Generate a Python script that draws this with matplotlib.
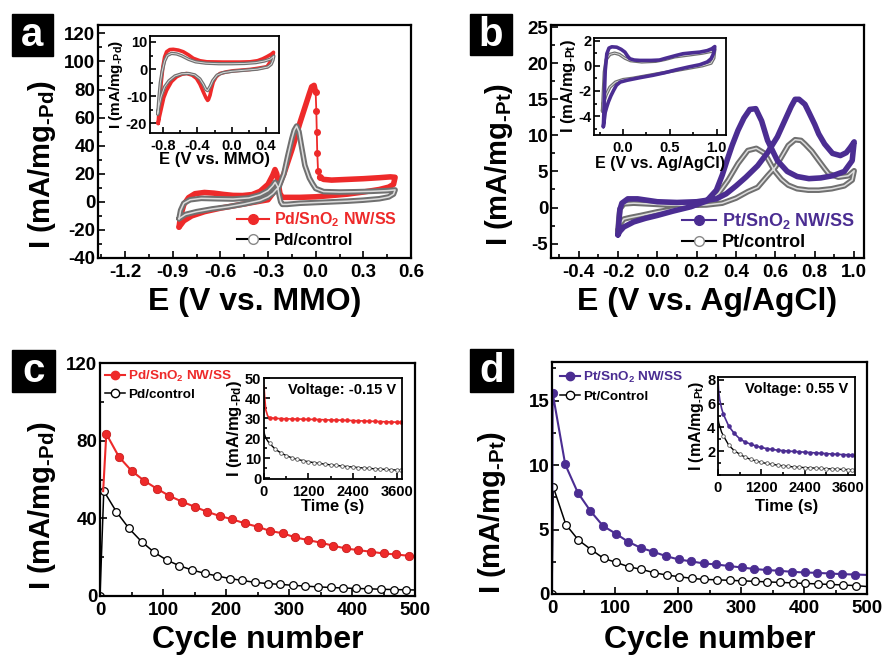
import matplotlib
matplotlib.use('Agg')
import matplotlib.pyplot as plt
from matplotlib.lines import Line2D
from matplotlib.patches import Rectangle
from matplotlib.ticker import MultipleLocator

plt.rcParams['font.family'] = 'Liberation Sans'
plt.rcParams['font.weight'] = 'bold'
plt.rcParams['axes.labelweight'] = 'bold'
plt.rcParams['axes.unicode_minus'] = False
plt.rcParams['mathtext.fontset'] = 'custom'
plt.rcParams['mathtext.rm'] = 'Liberation Sans:bold'
plt.rcParams['mathtext.it'] = 'Liberation Sans:bold'
plt.rcParams['mathtext.bf'] = 'Liberation Sans:bold'

RED = '#ee2a2a'
PURPLE = '#4b2d92'
GREY = '#707070'

# ---- panel a: CV of Pd (main) ----
a_red_E = [-0.86, -0.85, -0.83, -0.80, -0.76, -0.70, -0.64, -0.58, -0.52, -0.46, -0.40, -0.35, -0.30,
           -0.27, -0.256, -0.245, -0.235, -0.225, -0.21, -0.10, 0.0, 0.10, 0.20, 0.30, 0.40, 0.46, 0.49,
           0.50, 0.47, 0.40, 0.30, 0.20, 0.10, 0.05, 0.025, 0.015, 0.01, 0.007, 0.004, 0.0, -0.01, -0.025,
           -0.04, -0.06, -0.10, -0.15, -0.20, -0.23, -0.27, -0.30, -0.40, -0.50, -0.60, -0.70, -0.78,
           -0.83, -0.86]
a_red_I = [-18, -10, -2, 3, 5.8, 6.7, 6.2, 5.3, 4.6, 4.5, 5.2, 7.5, 12.5,
           19, 23, 20, 13, 6, 3.2, 3.2, 3.6, 4.5, 5.5, 7.0, 8.8, 10.5, 12.5,
           17.5, 17.8, 17.2, 16.5, 16.0, 15.5, 16.0, 17.5, 22, 35, 50, 65, 78, 83, 82,
           77, 70, 56, 37, 20, 12, 6, 1.5, -0.5, -2.5, -4.5, -7, -10,
           -13.5, -18]
a_ctl_E = [-0.86, -0.85, -0.83, -0.79, -0.72, -0.62, -0.52, -0.42, -0.35, -0.30, -0.27, -0.255, -0.24,
           -0.23, -0.22, -0.21, -0.18, -0.10, 0.0, 0.10, 0.20, 0.30, 0.40, 0.46, 0.49, 0.50,
           0.45, 0.35, 0.25, 0.15, 0.05, 0.0, -0.02, -0.04, -0.068, -0.09, -0.105, -0.12, -0.135,
           -0.15, -0.175, -0.20, -0.23, -0.27, -0.30, -0.35, -0.45, -0.55, -0.65, -0.75, -0.82, -0.86]
a_ctl_I = [-12, -6, -1, 1.5, 2.5, 2.2, 2.0, 2.8, 5, 8, 11.5, 14, 11,
           5, 0, -1.8, -1.8, -1.0, -0.5, 0, 0.5, 1.2, 2.2, 3.5, 5.5, 8.5,
           8.0, 7.5, 7.2, 7.0, 7.3, 9.5, 13, 17, 26, 40, 50, 54, 51,
           45, 33, 20, 11, 6, 3.5, 1, -1.5, -3.5, -5, -7, -9, -12]

# ---- panel a inset ----
ai_red_E = [-0.855, -0.845, -0.835, -0.82, -0.80, -0.78, -0.757, -0.72, -0.68, -0.62, -0.563, -0.50, -0.447,
            -0.37, -0.29, -0.10, 0.10, 0.214, 0.30, 0.36, 0.41, 0.46, 0.486,
            0.48, 0.47, 0.44, 0.41, 0.30, 0.214, 0.10, 0.02, -0.06, -0.136, -0.18, -0.214, -0.235, -0.252,
            -0.27, -0.28, -0.30, -0.33, -0.37, -0.41, -0.46, -0.524, -0.58, -0.64, -0.70, -0.757, -0.79,
            -0.815, -0.84, -0.855]
ai_red_I = [-20, -15, -11.5, -5, 0.9, 4.5, 6.4, 7.2, 7.3, 7.0, 6.4, 5.2, 4.0,
            3.1, 2.7, 2.6, 2.6, 2.7, 3.1, 3.8, 4.6, 5.5, 6.2,
            5.0, 4.0, 2.3, 0.9, 0.3, -0.1, -0.4, -0.6, -1.0, -1.6, -2.8, -4.7, -7.2, -9.6,
            -11.2, -11.5, -10.5, -8.4, -5.5, -3.4, -2.2, -1.6, -1.9, -2.8, -4.6, -7.8, -10.5,
            -14, -17.5, -20]
ai_ctl_E = [-0.86, -0.845, -0.83, -0.81, -0.78, -0.75, -0.70, -0.64, -0.58, -0.50, -0.42, -0.30, -0.15,
            0.0, 0.15, 0.28, 0.38, 0.45, 0.49,
            0.48, 0.46, 0.42, 0.30, 0.15, 0.0, -0.10, -0.17, -0.22, -0.25, -0.28, -0.30, -0.33, -0.37,
            -0.43, -0.50, -0.58, -0.66, -0.73, -0.78, -0.82, -0.845, -0.86]
ai_ctl_I = [-16.5, -10, -5, -1, 3.0, 5.0, 5.8, 5.6, 4.9, 3.6, 2.7, 2.2, 2.0,
            2.0, 2.1, 2.4, 3.0, 3.7, 4.8,
            3.3, 1.8, 0.8, 0.0, -0.4, -0.8, -1.3, -2.2, -4.2, -6.3, -7.9, -7.5, -5.6, -3.6,
            -2.1, -1.6, -1.7, -2.5, -4.3, -6.5, -10, -13.5, -16.5]

# ---- panel b: CV of Pt (main) ----
b_pur_E = [-0.20, -0.195, -0.19, -0.18, -0.15, -0.10, -0.05, 0.0, 0.10, 0.20, 0.30, 0.35, 0.40, 0.45,
           0.51, 0.56, 0.61, 0.65, 0.68, 0.70, 0.72, 0.75, 0.77, 0.80, 0.82, 0.85, 0.89, 0.93, 0.96, 0.98,
           1.0, 0.99, 0.95, 0.89, 0.83, 0.77, 0.71, 0.66, 0.61, 0.56, 0.53, 0.50, 0.47, 0.44, 0.41, 0.38,
           0.355, 0.33, 0.30, 0.25, 0.17, 0.08, 0.0, -0.06, -0.12, -0.17, -0.19, -0.20]
b_pur_I = [-3.8, -2.0, -0.3, 0.6, 1.2, 1.2, 1.0, 0.8, 0.7, 0.8, 1.2, 1.9, 3.0, 4.2,
           5.8, 7.6, 9.8, 12.2, 14.0, 15.0, 15.0, 14.3, 13.2, 11.5, 10.2, 8.8, 7.5, 7.2, 7.6, 8.3,
           9.1, 6.5, 5.0, 4.4, 4.1, 4.0, 4.3, 5.0, 6.5, 9.3, 12.0, 13.7, 13.6, 12.4, 10.7, 8.6,
           6.6, 4.5, 2.4, 0.9, 0.1, -0.5, -1.1, -1.5, -2.0, -2.7, -3.3, -3.8]
b_ctl_E = [-0.20, -0.195, -0.19, -0.17, -0.12, -0.05, 0.05, 0.15, 0.25, 0.33, 0.40, 0.46, 0.51, 0.56,
           0.60, 0.635, 0.665, 0.70, 0.73, 0.75, 0.785, 0.82, 0.85, 0.87, 0.92, 0.97, 1.0,
           0.99, 0.95, 0.886, 0.82, 0.767, 0.71, 0.665, 0.63, 0.597, 0.546, 0.503, 0.46, 0.41, 0.36,
           0.31, 0.27, 0.22, 0.15, 0.086, 0.0, -0.084, -0.14, -0.17, -0.19, -0.20]
b_ctl_I = [-3.3, -1.5, -0.2, 0.5, 0.6, 0.5, 0.35, 0.3, 0.35, 0.6, 1.3, 2.2, 2.8, 4.4,
           5.6, 7.2, 8.6, 9.4, 9.3, 8.8, 7.8, 6.5, 5.4, 4.7, 4.2, 4.4, 5.1,
           3.8, 3.0, 2.6, 2.4, 2.4, 2.6, 3.1, 3.9, 5.0, 7.5, 8.2, 7.9, 6.1, 3.8,
           1.9, 1.0, 0.5, 0.1, -0.2, -0.6, -1.1, -1.4, -1.6, -2.3, -3.3]

# ---- panel b inset ----
bi_pur_E = [-0.21, -0.205, -0.20, -0.19, -0.173, -0.15, -0.12, -0.067, -0.02, 0.02, 0.05, 0.074, 0.12,
            0.18, 0.30, 0.39, 0.45, 0.50, 0.57, 0.64, 0.73, 0.82, 0.90, 0.95, 0.98,
            0.975, 0.96, 0.94, 0.90, 0.82, 0.70, 0.57, 0.45, 0.32, 0.18, 0.04, -0.03, -0.07, -0.10,
            -0.13, -0.156, -0.173, -0.19, -0.20, -0.21]
bi_pur_I = [-4.84, -3.8, -2.5, -0.4, 0.95, 1.4, 1.5, 1.47, 1.3, 1.08, 0.75, 0.55, 0.45,
            0.42, 0.42, 0.45, 0.58, 0.68, 0.82, 0.95, 1.02, 1.08, 1.2, 1.35, 1.52,
            1.2, 0.85, 0.55, 0.3, 0.08, -0.1, -0.32, -0.55, -0.76, -0.95, -1.16, -1.3, -1.55, -1.95,
            -2.4, -2.87, -3.26, -3.7, -4.3, -4.84]
bi_ctl_E = [-0.22, -0.21, -0.20, -0.18, -0.14, -0.09, -0.04, 0.02, 0.08, 0.20, 0.35, 0.45, 0.55, 0.70,
            0.85, 0.95, 0.98,
            0.97, 0.94, 0.85, 0.70, 0.55, 0.40, 0.25, 0.10, 0.0, -0.08, -0.14, -0.18, -0.21, -0.22]
bi_ctl_I = [-3.6, -2.0, -0.5, 0.5, 0.9, 1.0, 0.9, 0.6, 0.4, 0.3, 0.35, 0.5, 0.7, 0.85,
            1.0, 1.15, 1.3,
            0.6, 0.2, 0.0, -0.2, -0.4, -0.6, -0.8, -1.0, -1.1, -1.3, -1.7, -2.3, -3.0, -3.6]

# ---- panel c: Pd stability ----
c_red_x = [5, 10, 30, 50, 70, 90, 110, 130, 150, 170, 190, 210, 230, 250, 270, 290, 310, 330, 350,
           370, 390, 410, 430, 450, 470, 490, 500]
c_red_y = [54, 83.5, 71.7, 64.5, 59.4, 55.3, 51.6, 48.6, 46.0, 43.4, 41.2, 39.5, 37.4, 35.7, 33.5,
           32.3, 30.2, 28.8, 27.5, 25.9, 24.5, 23.6, 22.8, 21.9, 21.4, 20.7, 20.3]
c_ctl_x = [0, 6, 26, 46, 66, 86, 106, 126, 146, 166, 186, 206, 226, 246, 266, 286, 306, 326, 346,
           366, 386, 406, 426, 446, 466, 486, 500]
c_ctl_y = [0, 54.1, 43.4, 34.8, 28.0, 22.5, 18.5, 15.6, 13.4, 11.7, 10.3, 9.0, 8.0, 7.0, 6.4,
           6.0, 5.5, 5.1, 4.7, 4.4, 4.1, 3.9, 3.7, 3.5, 3.3, 3.2, 3.1]

t_inset = [0, 20, 50, 100, 150, 300, 450, 600, 750, 900, 1050, 1200, 1350, 1500, 1650, 1800, 1950,
           2100, 2250, 2400, 2550, 2700, 2850, 3000, 3150, 3300, 3450, 3600, 3700]
ci_red = [46, 40, 34, 31, 30.2, 29.8, 29.7, 29.6, 29.5, 29.5, 29.4, 29.3, 29.3, 29.2, 29.1, 29.0,
          29.0, 28.9, 28.8, 28.7, 28.6, 28.5, 28.4, 28.3, 28.2, 28.1, 28.0, 27.9, 27.8]
ci_ctl = [23, 21.5, 20, 18.5, 17.3, 14.5, 12.6, 11.2, 10.1, 9.3, 8.7, 8.1, 7.7, 7.3, 6.9, 6.6,
          6.3, 6.0, 5.7, 5.5, 5.2, 5.0, 4.8, 4.6, 4.4, 4.3, 4.1, 4.0, 3.9]

# ---- panel d: Pt stability ----
d_pur_x = [0, 1, 21, 41, 61, 81, 101, 121, 141, 161, 181, 201, 221, 241, 261, 281, 301, 321, 341,
           361, 381, 401, 421, 441, 461, 481, 500]
d_pur_y = [0, 15.6, 10.05, 7.86, 6.44, 5.28, 4.69, 4.05, 3.58, 3.27, 2.94, 2.68, 2.53, 2.37, 2.29,
           2.17, 2.06, 1.94, 1.86, 1.80, 1.72, 1.67, 1.64, 1.59, 1.54, 1.51, 1.48]
d_ctl_x = [0, 2, 22, 42, 62, 82, 102, 122, 142, 162, 182, 202, 222, 242, 262, 282, 302, 322, 342,
           362, 382, 402, 422, 442, 462, 482, 500]
d_ctl_y = [0, 8.3, 5.39, 4.18, 3.45, 2.76, 2.45, 2.11, 1.91, 1.65, 1.47, 1.34, 1.21, 1.13, 1.10,
           1.06, 1.02, 0.98, 0.94, 0.90, 0.86, 0.82, 0.78, 0.74, 0.70, 0.65, 0.58]
di_pur = [8.0, 7.0, 6.3, 5.6, 5.1, 4.1, 3.5, 3.05, 2.78, 2.6, 2.44, 2.32, 2.22, 2.15, 2.09, 2.05,
          2.01, 1.98, 1.95, 1.92, 1.89, 1.86, 1.83, 1.80, 1.77, 1.74, 1.72, 1.70, 1.68]
di_ctl = [4.8, 4.4, 4.1, 3.6, 3.3, 2.5, 2.05, 1.75, 1.5, 1.32, 1.18, 1.06, 0.97, 0.90, 0.83, 0.77,
          0.72, 0.68, 0.65, 0.62, 0.60, 0.58, 0.55, 0.53, 0.51, 0.49, 0.47, 0.45, 0.44]

PD_LABEL = 'I (mA/mg$_{\\text{-Pd}}$)'
PT_LABEL = 'I (mA/mg$_{\\text{-Pt}}$)'

fig = plt.figure(figsize=(8.85, 6.61), dpi=100)
W, H = 885, 661


def px_axes(l, t, r, b):
    return fig.add_axes([l / W, 1 - b / H, (r - l) / W, (b - t) / H])


def style(ax, size, xmaj, xmin, ymaj, ymin, lw=1.6, major=5, minor=3):
    for s in ax.spines.values():
        s.set_linewidth(lw)
    ax.xaxis.set_major_locator(MultipleLocator(xmaj))
    ax.xaxis.set_minor_locator(MultipleLocator(xmin))
    ax.yaxis.set_major_locator(MultipleLocator(ymaj))
    ax.yaxis.set_minor_locator(MultipleLocator(ymin))
    ax.tick_params(which='both', direction='in', top=False, right=False, width=1.2, labelsize=size)
    ax.tick_params(which='major', length=major)
    ax.tick_params(which='minor', length=minor)
    ax.tick_params(axis='x', pad=4)
    ax.tick_params(axis='y', pad=2)


def band(ax, e, i, color, lw=4.0, hollow=False):
    ax.plot(e, i, color=color, lw=lw, solid_joinstyle='round', solid_capstyle='round')
    if hollow:
        ax.plot(e, i, color='#dcdcdc', lw=lw * 0.28, solid_joinstyle='round')


def letter(ch, l, t, r, b):
    fig.patches.append(Rectangle((l / W, 1 - b / H), (r - l) / W, (b - t) / H,
                                 transform=fig.transFigure, color='black', zorder=5))
    fig.text((l + r) / 2 / W, 1 - (t + b) / 2 / H, ch, color='white', fontsize=29,
             ha='center', va='center', zorder=6)


# ---------------- a ----------------
ax = px_axes(98, 25, 411, 258)
band(ax, a_red_E[:35], a_red_I[:35], RED)
band(ax, a_red_E[39:], a_red_I[39:], RED)
ax.plot(a_red_E[34:40], a_red_I[34:40], color=RED, lw=1.3, marker='o', ms=4, mec=RED)
band(ax, a_ctl_E, a_ctl_I, GREY, hollow=True)
ax.set_xlim(-1.37, 0.6)
ax.set_ylim(-40, 126)
style(ax, 13.5, 0.3, 0.15, 20, 10)
ax.set_xlabel('E (V vs. MMO)', fontsize=23)
ax.set_ylabel(PD_LABEL, fontsize=21)
ax.xaxis.set_label_coords(0.5, -0.125)
ax.yaxis.set_label_coords(-0.128, 0.40)
h1 = Line2D([], [], color=RED, lw=1.5, marker='o', ms=7, mfc=RED, mec=RED)
h2 = Line2D([], [], color='black', lw=1.5, marker='o', ms=7, mfc='white', mec='#888888')
leg = ax.legend([h1, h2], ['Pd/SnO$_{\\rm 2}$ NW/SS', 'Pd/control'], loc='lower right',
                bbox_to_anchor=(0.955, 0.045), frameon=False, fontsize=11.5, handlelength=2.0,
                handletextpad=0.3, labelspacing=0.2, borderpad=0, borderaxespad=0)
for txt, c in zip(leg.get_texts(), [RED, 'black']):
    txt.set_color(c)

ax = px_axes(150, 36, 279, 133)
band(ax, ai_red_E, ai_red_I, RED, lw=2.6)
band(ax, ai_ctl_E, ai_ctl_I, GREY, lw=2.4, hollow=True)
ax.set_xlim(-0.95, 0.55)
ax.set_ylim(-23.5, 12.2)
style(ax, 10.5, 0.4, 0.2, 10, 5, lw=1.3, major=4, minor=2)
ax.set_xlabel('E (V vs. MMO)', fontsize=12)
ax.set_ylabel(PD_LABEL, fontsize=11)
ax.xaxis.set_label_coords(0.5, -0.2)
ax.yaxis.set_label_coords(-0.19, 0.5)

# ---------------- b ----------------
ax = px_axes(551, 25, 864, 258)
band(ax, b_ctl_E, b_ctl_I, GREY, hollow=True)
band(ax, b_pur_E, b_pur_I, PURPLE)
ax.set_xlim(-0.54, 1.05)
ax.set_ylim(-7, 25.3)
style(ax, 13.5, 0.2, 0.1, 5, 2.5)
ax.set_xlabel('E (V vs. Ag/AgCl)', fontsize=23)
ax.set_ylabel(PT_LABEL, fontsize=21)
ax.xaxis.set_label_coords(0.5, -0.125)
ax.yaxis.set_label_coords(-0.115, 0.40)
h1 = Line2D([], [], color=PURPLE, lw=1.5, marker='o', ms=7, mfc=PURPLE, mec=PURPLE)
h2 = Line2D([], [], color='black', lw=1.5, marker='o', ms=7, mfc='white', mec='#888888')
leg = ax.legend([h1, h2], ['Pt/SnO$_{\\rm 2}$ NW/SS', 'Pt/control'], loc='lower right',
                bbox_to_anchor=(0.97, 0.03), frameon=False, fontsize=13, handlelength=1.9,
                handletextpad=0.3, labelspacing=0.15, borderpad=0, borderaxespad=0)
for txt, c in zip(leg.get_texts(), [PURPLE, 'black']):
    txt.set_color(c)

ax = px_axes(594, 38, 726, 135)
band(ax, bi_ctl_E, bi_ctl_I, GREY, lw=2.4, hollow=True)
band(ax, bi_pur_E, bi_pur_I, PURPLE, lw=2.6)
ax.set_xlim(-0.31, 1.1)
ax.set_ylim(-5.5, 2.2)
style(ax, 10.5, 0.5, 0.25, 2, 1, lw=1.3, major=4, minor=2)
ax.set_xlabel('E (V vs. Ag/AgCl)', fontsize=11.5)
ax.set_ylabel(PT_LABEL, fontsize=12)
ax.xaxis.set_label_coords(0.5, -0.22)
ax.yaxis.set_label_coords(-0.12, 0.5)

# ---------------- c ----------------
ax = px_axes(100, 363, 415, 596)
ax.plot(c_ctl_x, c_ctl_y, color='black', lw=1.1, marker='o', ms=5.5, mfc='white', mec='black',
        mew=0.9, markevery=list(range(0, 26)))
ax.plot(c_red_x, c_red_y, color=RED, lw=1.5, marker='o', ms=6, mfc=RED, mec='#c81e1e',
        mew=0.6, markevery=list(range(1, 26)))
ax.set_xlim(0, 500)
ax.set_ylim(0, 120)
style(ax, 13.5, 100, 50, 40, 20)
ax.set_xlabel('Cycle number', fontsize=23)
ax.set_ylabel(PD_LABEL, fontsize=21)
ax.xaxis.set_label_coords(0.5, -0.125)
ax.yaxis.set_label_coords(-0.134, 0.39)
h1 = Line2D([], [], color=RED, lw=1.5, marker='o', ms=6, mfc=RED, mec=RED)
h2 = Line2D([], [], color='black', lw=1.1, marker='o', ms=6, mfc='white', mec='black')
leg = ax.legend([h1, h2], ['Pd/SnO$_{\\rm 2}$ NW/SS', 'Pd/control'], loc='upper left',
                bbox_to_anchor=(0.015, 0.975), frameon=False, fontsize=9.7, handlelength=1.5,
                handletextpad=0.2, labelspacing=0.35, borderpad=0, borderaxespad=0)
for txt, c in zip(leg.get_texts(), [RED, 'black']):
    txt.set_color(c)

ax = px_axes(264, 378, 402, 479)
ax.plot(t_inset, ci_red, color=RED, lw=1.2, marker='o', ms=2.3, markevery=list(range(4, 29)))
ax.plot(t_inset, ci_ctl, color='black', lw=1.0, marker='o', ms=2.6, mfc='white', mec='#555555',
        mew=0.6, markevery=list(range(4, 29)))
ax.set_xlim(0, 3735)
ax.set_ylim(-0.5, 50)
style(ax, 10.5, 1200, 600, 10, 5, lw=1.3, major=4, minor=2)
ax.set_xlabel('Time (s)', fontsize=12)
ax.set_ylabel(PD_LABEL, fontsize=12)
ax.xaxis.set_label_coords(0.5, -0.2)
ax.yaxis.set_label_coords(-0.145, 0.5)
ax.text(0.96, 0.88, 'Voltage: -0.15 V', transform=ax.transAxes, ha='right', va='center', fontsize=10.5)

# ---------------- d ----------------
ax = px_axes(552, 362, 867, 594)
ax.plot(d_ctl_x, d_ctl_y, color='black', lw=1.1, marker='o', ms=5.5, mfc='white', mec='black',
        mew=0.9, markevery=list(range(0, 26)))
ax.plot(d_pur_x, d_pur_y, color=PURPLE, lw=1.5, marker='o', ms=6, mfc=PURPLE, mec=PURPLE,
        mew=0.6, markevery=list(range(1, 26)))
ax.set_xlim(0, 500)
ax.set_ylim(0, 18)
style(ax, 13.5, 100, 50, 5, 2.5)
ax.set_xlabel('Cycle number', fontsize=23)
ax.set_ylabel(PT_LABEL, fontsize=21)
ax.xaxis.set_label_coords(0.5, -0.135)
ax.yaxis.set_label_coords(-0.14, 0.35)
h1 = Line2D([], [], color=PURPLE, lw=1.5, marker='o', ms=6, mfc=PURPLE, mec=PURPLE)
h2 = Line2D([], [], color='black', lw=1.1, marker='o', ms=6, mfc='white', mec='black')
leg = ax.legend([h1, h2], ['Pt/SnO$_{\\rm 2}$ NW/SS', 'Pt/Control'], loc='upper left',
                bbox_to_anchor=(0.025, 0.965), frameon=False, fontsize=9.7, handlelength=1.5,
                handletextpad=0.2, labelspacing=0.4, borderpad=0, borderaxespad=0)
for txt, c in zip(leg.get_texts(), [PURPLE, 'black']):
    txt.set_color(c)

ax = px_axes(718, 377, 855, 475)
ax.plot(t_inset, di_pur, color=PURPLE, lw=1.2, marker='o', ms=2.3, markevery=list(range(4, 29)))
ax.plot(t_inset, di_ctl, color='black', lw=1.0, marker='o', ms=2.6, mfc='white', mec='#555555',
        mew=0.6, markevery=list(range(4, 29)))
ax.set_xlim(0, 3790)
ax.set_ylim(0, 8.25)
style(ax, 10.5, 1200, 600, 2, 1, lw=1.3, major=4, minor=2)
ax.set_yticks([2, 4, 6, 8])
ax.set_xlabel('Time (s)', fontsize=12)
ax.set_ylabel(PT_LABEL, fontsize=11.5)
ax.xaxis.set_label_coords(0.5, -0.24)
ax.yaxis.set_label_coords(-0.09, 0.5)
ax.text(0.95, 0.88, 'Voltage: 0.55 V', transform=ax.transAxes, ha='right', va='center', fontsize=10.5)

letter('a', 12, 14, 53, 56)
letter('b', 470, 14, 512, 55)
letter('c', 12, 350, 55, 392)
letter('d', 470, 349, 513, 392)

fig.savefig('out.png', dpi=100)
